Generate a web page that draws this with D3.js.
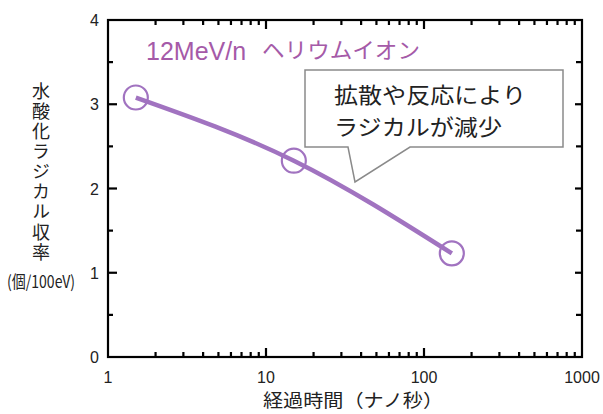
<!DOCTYPE html>
<html lang="ja">
<head>
<meta charset="UTF-8">
<title>水酸化ラジカル収率</title>
<script src="https://d3js.org/d3.v7.min.js"></script>
<style>
  body { margin: 0; padding: 0; background: #fff; }
  svg { display: block; }
  text { font-family: "Liberation Sans", Arial, "Noto Sans CJK JP", sans-serif; }
  .jp { font-family: "Noto Sans CJK JP", sans-serif; }
</style>
</head>
<body>
<div id="chart"></div>
<script>
// data
const times = [1.5, 15, 150];          // ns
const yields = [3.08, 2.33, 1.23];     // 個/100eV
const xTicks = [1, 10, 100, 1000];
const yTicks = [0, 1, 2, 3, 4];
const yMinor = [0.5, 1.5, 2.5, 3.5];
const seriesLabel = "12MeV/n";
const ionLabel = "ヘリウムイオン";
const noteLines = ["拡散や反応により", "ラジカルが減少"];
const yLabel = "水酸化ラジカル収率";
const yUnit = "(個/100eV)";
const xLabel = "経過時間（ナノ秒）";

const W = 603, H = 414;
const purple = "#a173c0";
const svg = d3.select("#chart").append("svg")
  .attr("width", W).attr("height", H);

const x = d3.scaleLog().domain([1, 1000]).range([108, 582]);
const y = d3.scaleLinear().domain([0, 4]).range([357, 20]);

// minor log ticks
const xMinor = [];
[1, 10, 100].forEach(d => { for (let k = 2; k <= 9; k++) xMinor.push(d * k); });

const ax = svg.append("g").attr("stroke", "#000").attr("stroke-width", 2.2);

// ticks (inward)
xTicks.slice(1, 3).forEach(t => {
  ax.append("line").attr("x1", x(t)).attr("x2", x(t)).attr("y1", y(0)).attr("y2", y(0) - 9);
  ax.append("line").attr("x1", x(t)).attr("x2", x(t)).attr("y1", y(4)).attr("y2", y(4) + 9);
});
xMinor.forEach(t => {
  ax.append("line").attr("x1", x(t)).attr("x2", x(t)).attr("y1", y(0)).attr("y2", y(0) - 5);
  ax.append("line").attr("x1", x(t)).attr("x2", x(t)).attr("y1", y(4)).attr("y2", y(4) + 5);
});
yTicks.slice(1, 4).forEach(t => {
  ax.append("line").attr("x1", x(1)).attr("x2", x(1) + 9).attr("y1", y(t)).attr("y2", y(t));
  ax.append("line").attr("x1", x(1000)).attr("x2", x(1000) - 7).attr("y1", y(t)).attr("y2", y(t));
});
yMinor.forEach(t => {
  ax.append("line").attr("x1", x(1)).attr("x2", x(1) + 5).attr("y1", y(t)).attr("y2", y(t));
  ax.append("line").attr("x1", x(1000)).attr("x2", x(1000) - 6).attr("y1", y(t)).attr("y2", y(t));
});

// frame
ax.append("rect")
  .attr("x", x(1)).attr("y", y(4))
  .attr("width", x(1000) - x(1)).attr("height", y(0) - y(4))
  .attr("fill", "none");

// tick labels
svg.append("g").selectAll("text").data(xTicks).join("text")
  .attr("x", d => x(d)).attr("y", 383)
  .attr("text-anchor", "middle").attr("font-size", 16).attr("fill", "#222")
  .text(d => d);
svg.append("g").selectAll("text").data(yTicks).join("text")
  .attr("x", 99).attr("y", d => y(d) + 6)
  .attr("text-anchor", "end").attr("font-size", 16).attr("fill", "#222")
  .text(d => d);

// axis titles (vertical y label)
svg.append("text").attr("class", "jp")
  .attr("x", 41).attr("y", 82)
  .style("writing-mode", "vertical-rl")
  .style("text-orientation", "upright")
  .attr("font-size", 18).attr("letter-spacing", 2.1).attr("fill", "#222")
  .text(yLabel);
svg.append("text").attr("class", "jp")
  .attr("x", 7).attr("y", 288)
  .attr("font-size", 17).attr("fill", "#222")
  .attr("textLength", 68).attr("lengthAdjust", "spacingAndGlyphs")
  .text(yUnit);
svg.append("text").attr("class", "jp")
  .attr("x", 263).attr("y", 407)
  .attr("font-size", 18).attr("fill", "#222")
  .attr("textLength", 180).attr("lengthAdjust", "spacingAndGlyphs")
  .text(xLabel);

// series title
svg.append("text")
  .attr("x", 146).attr("y", 60)
  .attr("font-size", 25).attr("fill", "#a55aa8")
  .text(seriesLabel);
svg.append("text").attr("class", "jp")
  .attr("x", 262).attr("y", 58)
  .attr("font-size", 22).attr("fill", "#a55aa8")
  .attr("textLength", 158).attr("lengthAdjust", "spacingAndGlyphs")
  .text(ionLabel);

// callout
const bx0 = 305, by0 = 70, bx1 = 563, by1 = 147;
svg.append("path")
  .attr("d", `M${bx0},${by0}H${bx1}V${by1}H410L355,182L348,${by1}H${bx0}Z`)
  .attr("fill", "#fff").attr("stroke", "#8a8a8a").attr("stroke-width", 1.5);
svg.append("g").selectAll("text").data(noteLines).join("text")
  .attr("class", "jp")
  .attr("x", 334).attr("y", (d, i) => 103 + i * 32)
  .attr("font-size", 22).attr("fill", "#222")
  .attr("textLength", d => d.length * 24)
  .attr("lengthAdjust", "spacingAndGlyphs")
  .text(d => d);

// curve
const pts = times.map((t, i) => [x(t), y(yields[i])]);
svg.append("path")
  .attr("d", d3.line().curve(d3.curveNatural)(pts))
  .attr("fill", "none").attr("stroke", purple)
  .attr("stroke-width", 4.5).attr("stroke-linecap", "butt");

svg.append("g").selectAll("circle").data(pts).join("circle")
  .attr("cx", d => d[0]).attr("cy", d => d[1]).attr("r", 12)
  .attr("fill", "none").attr("stroke", purple).attr("stroke-width", 2.2);
</script>
</body>
</html>
